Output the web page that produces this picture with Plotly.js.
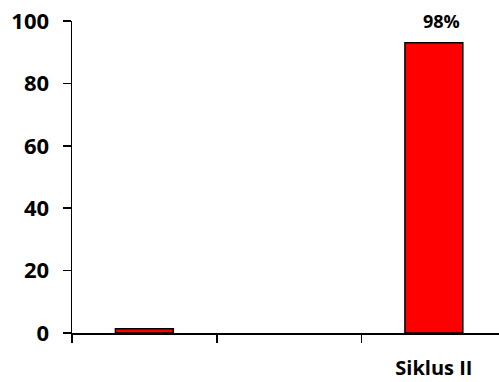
<!DOCTYPE html>
<html>
<head>
<meta charset="utf-8">
<script src="https://cdn.plot.ly/plotly-3.0.1.min.js"></script>
<style>html,body{margin:0;padding:0;background:#fff;}#chart{width:499px;height:382px;}</style>
</head>
<body>
<div id="chart"></div>
<script>
// Data
const categories = ["", "", "Siklus II"];
const values = [1.4, null, 93];
const barLabels = ["", "", "98%"];
const yTicks = [0, 20, 40, 60, 80, 100];

const xIdx = categories.map((c, i) => i);
const FONT = "Open Sans";

const trace = {
  type: "bar",
  x: xIdx,
  y: values,
  width: 0.4,
  marker: {color: "#ff0000", line: {color: "#000000", width: 1.5}},
  hoverinfo: "skip"
};

// invisible trace on the second x axis so its category labels show
const labelTrace = {
  type: "scatter",
  x: xIdx,
  y: values.map(() => null),
  xaxis: "x2",
  yaxis: "y",
  showlegend: false,
  hoverinfo: "skip"
};

const annotations = barLabels.map((t, i) => ({
  x: xIdx[i], y: values[i] == null ? 0 : values[i],
  text: t, showarrow: false, xanchor: "center", yanchor: "bottom",
  yshift: 8, xshift: 8,
  font: {family: FONT, size: 18, color: "#000", weight: "bold"}
})).filter(a => a.text !== "");

const range = [-0.5, 2.45];

const layout = {
  width: 499, height: 382,
  margin: {l: 72, r: 0, t: 21, b: 49, pad: 0},
  paper_bgcolor: "#fff", plot_bgcolor: "#fff",
  showlegend: false,
  xaxis: {
    range: range,
    tickvals: [-0.5, 0.5, 1.5, 2.5],
    showticklabels: false,
    ticks: "outside", ticklen: 8, tickwidth: 1.5, tickcolor: "#000",
    showline: true, linecolor: "#000", linewidth: 1.5,
    showgrid: false, zeroline: false, fixedrange: true
  },
  xaxis2: {
    overlaying: "x", anchor: "y", side: "bottom",
    range: range,
    tickvals: xIdx, ticktext: categories,
    ticks: "", showline: false, showgrid: false, zeroline: false,
    ticklabelstandoff: 21,
    tickfont: {family: FONT, size: 20, color: "#000", weight: "bold"},
    fixedrange: true
  },
  yaxis: {
    range: [0, 100],
    tickvals: yTicks,
    ticks: "outside", ticklen: 8, tickwidth: 1.5, tickcolor: "#000",
    showline: true, linecolor: "#000", linewidth: 1.5,
    showgrid: false, zeroline: false,
    ticklabelstandoff: 9,
    tickfont: {family: FONT, size: 22, color: "#000", weight: "bold"},
    fixedrange: true
  },
  annotations: annotations
};

Plotly.newPlot("chart", [trace, labelTrace], layout, {displayModeBar: false, staticPlot: true});
</script>
</body>
</html>
